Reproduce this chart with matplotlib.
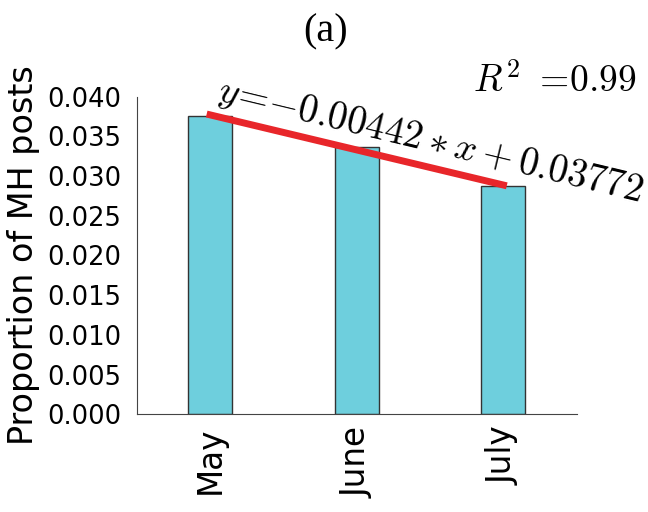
import matplotlib
matplotlib.use("Agg")
import matplotlib.pyplot as plt
import numpy as np

months = ["May", "June", "July"]
proportions = [0.0376, 0.0337, 0.0288]
slope = -0.00442
intercept = 0.03772
r2 = 0.99
yticks = [0.000, 0.005, 0.010, 0.015, 0.020, 0.025, 0.030, 0.035, 0.040]

plt.rcParams['mathtext.fontset'] = 'cm'

fig = plt.figure(figsize=(6.48, 5.12), dpi=100)
ax = fig.add_axes([0.211, 0.191, 0.679, 0.62])

x = np.arange(len(months))
ax.bar(x, proportions, width=0.3, color="#6ECFDD", edgecolor="#333333", linewidth=1.0, zorder=2)
fit = slope * x + intercept
ax.plot(x, fit, color="#E8262A", linewidth=5, zorder=3)

ax.set_xlim(-0.5, 2.5)
ax.set_ylim(0, 0.040)
ax.set_yticks(yticks)
ax.set_yticklabels([f"{t:.3f}" for t in yticks], fontsize=18.5)
ax.set_xticks(x)
ax.set_xticklabels(months, rotation=90, fontsize=23.5)
ax.tick_params(axis='x', direction='in', length=4, color="#555555", pad=9)
ax.tick_params(axis='y', length=0, pad=11)
for s in ['top', 'right']:
    ax.spines[s].set_visible(False)
for s in ['left', 'bottom']:
    ax.spines[s].set_color("#444444")
ax.set_ylabel("Proportion of MH posts", fontsize=24, labelpad=5)

eq = r"$y\!=\!{-}0.00442*x+0.03772$"
ax.text(0.04, 0.0396, eq, fontsize=28, rotation=-13.5,
        rotation_mode='anchor', ha='left', va='baseline')
fig.text(0.73, 0.822, r"$R^2\ =\!0.99$", fontsize=27, ha='left', va='baseline')
fig.text(0.503, 0.92, "(a)", fontsize=29, family="Liberation Serif", ha='center', va='baseline')

fig.savefig("out.png", dpi=100)
